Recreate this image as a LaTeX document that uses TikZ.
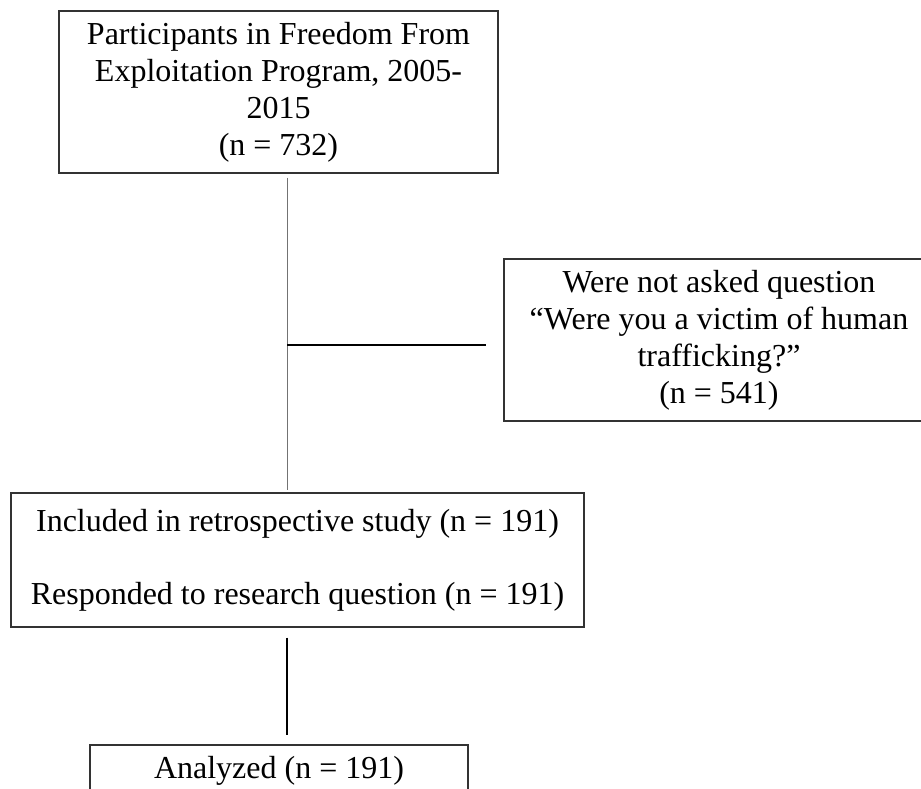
\documentclass[tikz,border=0pt]{standalone}
\usepackage{fontspec}
\setmainfont{Liberation Serif}
\usepackage{tikz}
\usetikzlibrary{positioning}

\begin{document}
\begin{tikzpicture}[x=1pt, y=-1pt,
    box/.style={rectangle, draw=black!80, line width=1.4pt, align=center, inner sep=0pt,
      font=\fontsize{32}{37}\selectfont},
    thinln/.style={draw=black!55, line width=1pt},
    armln/.style={draw=black, line width=1.2pt},
    thickln/.style={draw=black, line width=2pt}]
    \clip (0,0) rectangle (921,788);
    \node[box, minimum width=439pt, minimum height=162pt] (part) at (278.5,92)
      {Participants in Freedom From\\Exploitation Program, 2005-\\2015\\(n = 732)};
    \node[box, minimum width=430pt, minimum height=162pt] (notask) at (719,340)
      {Were not asked question\\``Were you a victim of human\\trafficking?''\\(n = 541)};
    \node[box, minimum width=573pt, minimum height=134pt] (incl) at (297.5,560)
      {Included in retrospective study (n = 191)\\[36pt]Responded to research question (n = 191)};
    \node[box, minimum width=378pt, minimum height=52pt] (anal) at (279,771)
      {Analyzed (n = 191)};
    \coordinate (split) at (287,345);
    \draw[thinln] ([xshift=8.5pt, yshift=-4pt]part.south) -- ([xshift=-10.5pt, yshift=2pt]incl.north);
    \draw[armln] (split) -- ([xshift=-17pt]notask.west |- split);
    \draw[thickln] ([xshift=-10.5pt, yshift=-10pt]incl.south) -- ([xshift=8pt, yshift=9pt]anal.north);
  \end{tikzpicture}
\end{document}
